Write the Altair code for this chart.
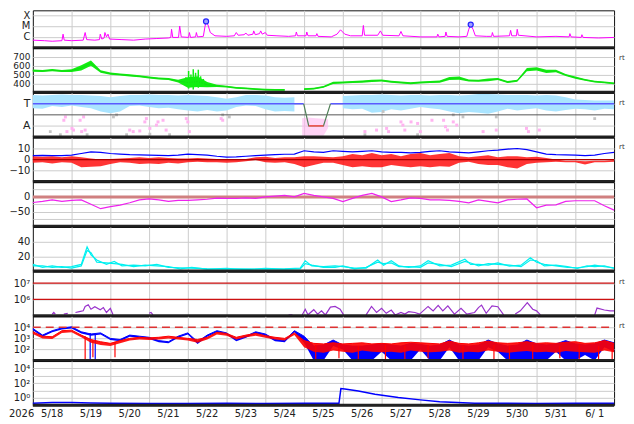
import altair as alt
import pandas as pd

FONT = "DejaVu Sans"
W = 585
H = 44.4
H1 = 37.7
Q = [i / 4 for i in range(61)]  # sample times, days since 5/18 00:00

# ---------------- panel 1: X-ray (log10 W/m2) ----------------
XR_D = [0.00, 0.30, 0.50, 0.75, 0.78, 0.81, 1.00, 1.30, 1.35, 1.39, 1.60, 1.72, 1.74, 1.78, 1.84, 1.86, 1.90, 1.94, 1.98,
        2.30, 2.60, 2.90, 3.20, 3.50, 3.56, 3.58, 3.61, 3.76, 3.79, 3.83, 4.02, 4.04, 4.07, 4.20, 4.22, 4.25, 4.40, 4.44,
        4.47, 4.52, 4.58, 4.70, 5.00, 5.20, 5.25, 5.30, 5.45, 5.50, 5.55, 5.68, 5.70, 5.74, 5.85, 5.88, 5.92, 6.00, 6.05,
        6.30, 6.60, 6.78, 6.80, 6.83, 7.05, 7.07, 7.10, 7.31, 7.33, 7.36, 7.70, 7.85, 7.94, 8.05, 8.20, 8.50, 8.53, 8.56,
        8.90, 8.97, 9.03, 9.45, 9.50, 9.55, 10.00, 10.43, 10.45, 10.48, 10.64, 10.66, 10.69, 11.00, 11.20, 11.25, 11.30,
        11.36, 11.42, 11.70, 11.84, 11.86, 11.89, 12.30, 12.33, 12.36, 12.48, 12.50, 12.53, 13.00, 13.50, 13.84, 13.86,
        13.89, 14.15, 14.17, 14.20, 14.60, 15.00]
XR_V = [-6.30, -6.35, -6.40, -6.35, -5.75, -6.30, -6.35, -6.30, -5.60, -6.25, -6.30, -6.25, -5.75, -6.20, -6.10, -5.60,
        -6.00, -5.75, -6.20, -6.25, -6.30, -6.20, -6.15, -6.10, -6.05, -5.30, -6.05, -6.05, -5.00, -6.00, -6.05, -5.60,
        -6.05, -6.00, -5.60, -6.00, -5.95, -5.10, -4.60, -4.90, -5.60, -5.90, -5.95, -5.90, -5.60, -5.85, -5.80, -5.65,
        -5.85, -5.75, -5.45, -5.80, -5.70, -5.45, -5.75, -5.60, -5.85, -5.90, -5.95, -5.90, -5.55, -5.90, -5.90, -5.55,
        -5.90, -5.90, -5.70, -5.95, -6.00, -5.75, -5.35, -5.75, -5.90, -5.90, -4.95, -5.85, -5.85, -5.45, -5.85, -5.90,
        -5.50, -5.90, -6.00, -6.00, -5.75, -6.00, -5.95, -5.55, -5.95, -6.00, -5.95, -5.30, -4.90, -5.30, -5.90, -5.95,
        -5.95, -5.60, -5.95, -5.90, -5.40, -5.90, -5.90, -5.30, -5.85, -6.00, -5.95, -6.00, -5.70, -6.00, -6.05, -5.80,
        -6.05, -6.10, -6.05]
FLARE_D = [4.47, 11.30]
FLARE_V = [-4.58, -4.87]

# ---------------- panel 2: solar wind speed ----------------
SPEED = [545, 540, 550, 540, 545, 575, 630, 535, 510, 500, 490, 480, 467, 455, 449, 425, 410, 420, 385, 372,
         363, 350, 343, 335, 328, 326, 325, None, 335, 340, 360, 405, 410, 415, 420, 428, 432, 418, 410, 402,
         410, 415, 420, 455, 460, 432, 430, 440, 449, 415, 430, 555, 565, 535, 540, 495, 465, 440, 420, 410, 400]
SPEED_NOISE = [12, 12, 12, 12, 15, 30, 30, 15, 12, 12, 12, 12, 12, 12, 12, 15, 60, 60, 30, 12,
               10, 10, 10, 10, 10, 10, 10, 0, 10, 10, 10, 12, 12, 12, 12, 12, 12, 12, 12, 12,
               12, 12, 12, 18, 18, 12, 12, 15, 12, 12, 12, 18, 18, 18, 15, 12, 12, 10, 10, 10, 10]
SPK_D = [3.95, 4.02, 4.08, 4.14, 4.20, 4.27, 4.33, 4.40]
SPK_LO = [370, 340, 360, 330, 380, 350, 360, 370]
SPK_HI = [470, 540, 500, 560, 520, 555, 480, 450]

# ---------------- panel 3: sector T / A ----------------
LB_HI = [1.8, 1.75, 1.8, 1.85, 1.8, 1.8, 1.75, 1.7, 1.6, 1.7, 1.8, 1.8, 1.85, 1.8, 1.8, 1.75, 1.8, 1.75, 1.7, 1.6,
         1.45, 1.6, 1.8, 1.8, 1.75, 1.6, 1.55, 1.6, None, None, None, None, 1.7, 1.75, 1.8, 1.8, 1.85, 1.8, 1.75, 1.8,
         1.8, 1.75, 1.8, 1.8, 1.75, 1.8, 1.9, 1.9, 1.85, 1.8, 1.8, 1.8, 1.75, 1.8, 1.75, 1.6, 1.4, 1.35, 1.3, 1.3, 1.3]
LB_LO = [0.6, 0.55, 0.8, 0.7, 0.85, 0.7, 0.6, 0.3, 0.15, 0.3, 0.8, 0.85, 0.7, 0.6, 0.65, 0.5, 0.4, 0.3, 0.45, 0.3,
         0.4, 0.7, 0.85, 0.8, 0.5, 0.3, 0.35, 0.3, None, None, None, None, 0.6, 0.5, 0.55, 0.2, 0.25, 0.5, 0.4, 0.55,
         0.7, 0.6, 0.5, 0.3, 0.15, 0.25, 0.2, 0.1, 0.3, 0.55, 0.4, 0.5, 0.6, 0.4, 0.3, 0.45, 0.55, 0.5, 0.4, 0.55, 0.5]
PINK_D = [0.80, 0.84, 0.88, 1.01, 1.05, 1.22, 1.26, 1.31, 1.35, 2.50, 2.59, 2.76, 2.89, 2.93, 3.02, 3.19, 3.23, 3.36,
          3.44, 3.96, 4.00, 4.04, 4.86, 4.90, 8.57, 8.87, 9.13, 9.18, 9.50, 9.55, 9.60, 9.76, 9.93, 10.0, 10.3, 10.6,
          10.65, 10.7, 10.85, 10.94, 11.62, 11.96, 12.74, 12.79, 13.07]
PINK_V = [-0.49, -0.19, -1.52, -1.23, -1.38, -0.49, -1.52, -0.19, -1.38, -1.38, -1.52, -1.46, -0.64, -0.34, -1.23,
          -0.93, -0.64, -0.49, -1.38, -0.34, -0.64, -1.52, -0.34, -0.49, -1.52, -1.38, -1.23, -1.52, -0.64, -0.93,
          -1.38, -0.64, -0.78, -1.52, -0.49, -0.49, -1.08, -1.38, -0.64, -0.93, -1.52, -1.38, -1.23, -1.52, -1.38]
PINKR_D = [6.95, 7.10, 7.30, 7.50, 7.62]
PINKR_LO = [-1.9, -1.9, -1.9, -1.9, -1.2]
PINKR_HI = [-0.3, -0.25, -0.3, -0.35, -0.4]
GRAY_D = [0.45, 0.71, 1.40, 2.08, 2.16, 2.42, 3.02, 3.53, 4.90, 5.07, 8.57, 9.04, 9.93, 10.85, 11.10, 11.96, 14.50]
GRAY_V = [-1.52, -1.8, -1.8, -0.19, 0.0, -1.8, -1.75, -1.8, 0.0, -0.19, -1.8, 0.3, -1.8, 0.0, -0.19, -0.19, -0.34]
SECT_BLUE_D = [0.0, 7.68]
SECT_BLUE_D2 = [6.99, 15.0]
SECT_BLUE_V = [1, 1]
SECT_SW_D = [6.99, 7.12, 7.50, 7.68]
SECT_SW_V = [1, -1, -1, 1]
SECT_RED_D = [7.12]
SECT_RED_D2 = [7.50]
SECT_RED_V = [-1]

# ---------------- panel 4: IMF Bt / Bz ----------------
BT = [3.6, 3.8, 3.5, 3.6, 4.0, 5.5, 7.0, 6.5, 5.5, 5.0, 4.5, 4.2, 4.0, 3.8, 3.6, 4.0, 5.0, 4.5, 4.0, 3.0,
      2.2, 2.5, 3.0, 3.5, 4.0, 4.5, 4.8, 5.0, 8.0, 7.0, 6.5, 8.0, 7.5, 7.0, 7.5, 8.0, 7.0, 6.5, 6.5, 6.0,
      6.5, 7.5, 8.0, 7.0, 6.5, 6.0, 7.0, 8.0, 8.5, 9.5, 10.0, 9.0, 7.0, 5.0, 4.5, 4.2, 4.0, 3.6, 4.0, 5.5, 6.5]
BZ_HI = [3, 2.5, 3, 2, 3, 2, 1, 0, 0.5, 1, 1.5, 2, 1.5, 2, 1.5, 1, 1, 1.5, 1, 0.5,
         -0.5, -0.5, 0.5, 2, 2.5, 1.5, 2, 2, 3, 3, 2.5, 2, 3, 5, 4, 6, 4, 5, 3, 5,
         6, 4, 5, 6, 3, 2, 3, 4, 2, 3, 3, 2, 2.5, 1.5, 0, -1, -1, -1.5, -1, -1, -0.5]
BZ_LO = [-3, -2.5, -3.5, -2.5, -3, -7, -6.5, -6, -4, -2.5, -3, -4, -3.5, -4, -3, -3.5, -2.5, -2, -2.5, -2.5,
         -3, -2.5, -1.5, -0.5, -2.5, -3, -2.5, -4, -7, -5, -3, -3, -5, -7, -6, -7, -7, -5, -6, -7,
         -6, -7, -6, -6.5, -3, -2, -4, -5, -5, -7, -8, -4, -3, -2.5, -2, -2.5, -2.5, -4.5, -2.5, -2.5, -2]

# ---------------- panel 5: Dst ----------------
DST = [-19, -15, -10, -15, -12, -10, -25, -40, -33, -28, -20, -10, -7, -10, -15, -12, -12, -10, -8, -4,
       -5, -5, -3, -5, 0, 3, 5, 0, 12, 5, 0, -5, -16, -5, 5, 12, 0, -16, -10, -3,
       -5, -10, -10, -12, -15, -20, -10, -15, -20, -10, -8, -7, -37, -28, -27, -15, -13, -13, -13, -30, -45]

# ---------------- panel 6: cyan index ----------------
CY_D = [0, 0.25, 0.5, 0.75, 1.0, 1.25, 1.4, 1.5, 1.65, 1.9, 2.1, 2.3, 2.6, 2.9, 3.2, 3.5, 3.8, 4.1, 4.5, 5.0,
        5.5, 6.0, 6.5, 6.9, 7.03, 7.2, 7.5, 7.8, 8.0, 8.3, 8.6, 8.9, 9.05, 9.25, 9.45, 9.7, 10.0, 10.2, 10.5, 10.8,
        11.15, 11.3, 11.5, 11.75, 12.0, 12.3, 12.6, 12.84, 13.0, 13.2, 13.5, 13.8, 14.05, 14.3, 14.5, 14.75, 15.0]
CY_A = [9, 5, 7, 5, 6, 9, 33, 22, 15, 9, 13, 7, 8, 7, 9, 5, 4.5, 4, 3, 2.5,
        3, 2.5, 3, 4, 14, 7, 6, 7, 6, 4, 4, 15, 8, 14, 7, 5, 7, 14, 7, 8,
        16, 9, 9, 8, 11, 6.7, 8, 18, 12, 9, 7, 5, 4.5, 6, 8, 6, 4.5]
CY_B = [7, 7, 5, 6, 4, 7, 28, 25, 12, 11, 10, 9, 6, 8, 7, 6, 3, 5, 2.5, 3.5,
        2, 3.5, 2.5, 3, 10, 8, 5, 5, 7, 3, 5, 12, 10, 11, 6, 6, 5, 11, 9, 6,
        13, 11, 7, 10, 9, 8, 6, 15, 14, 7, 8, 6, 3.5, 7, 6, 7, 3.5]

# ---------------- panel 7: electron flux (log10) ----------------
PUR_D = [0.5, 0.54, 0.58, None, 0.8, 0.9, None, 1.1, 1.2, 1.3, 1.35, 1.43, 1.5, 1.6, 1.74, 1.82, 1.9, 2.0, 2.07, None,
         3.0, 3.05, 3.1, None, 6.6, 6.7, None, 6.95, 7.03, 7.1, 7.25, 7.35, 7.45, 7.55, 7.68, 7.8, 7.93, 8.02, None,
         8.6, 8.74, 8.87, 9.0, 9.12, 9.25, 9.35, 9.5, 9.6, 9.7, 9.86, 9.98, 10.2, 10.33, 10.46, 10.58, 10.71, 10.88,
         11.05, 11.2, 11.4, 11.5, 11.58, 11.7, 11.85, 12.0, 12.15, None, 12.45, 12.58, 12.76, 12.9, 13.0, 13.1, None,
         14.5, 14.56, 14.75, 14.9, 15.0]
PUR_V = [5.1, 5.2, 5.1, None, 5.1, 5.15, None, 5.2, 5.25, 5.3, 5.57, 5.67, 5.4, 5.55, 5.37, 5.5, 5.2, 5.45, 5.06, None,
         5.15, 5.2, 5.05, None, 5.05, 5.06, None, 5.05, 5.4, 5.06, 5.37, 5.1, 5.3, 5.05, 5.53, 5.57, 5.4, 5.05, None,
         5.05, 5.57, 5.2, 5.46, 5.15, 5.35, 5.05, 5.2, 5.1, 5.25, 5.2, 5.1, 5.57, 5.3, 5.63, 5.3, 5.6, 5.1,
         5.46, 5.1, 5.2, 5.5, 5.65, 5.15, 5.6, 5.55, 5.05, None, 5.1, 5.3, 5.8, 5.4, 5.3, 5.05, None,
         5.05, 5.47, 5.35, 5.3, 5.3]

# ---------------- panel 8: proton / electron (log10) ----------------
BLUE8_HI = [3.9, 3.3, 3.7, 3.95, 4.05, 3.6, 3.4, 3.5, 3.0, 2.9, 3.3, 3.2, 3.1, 2.8, 2.7, 3.2, 3.5, 2.7, 3.3, 3.7,
            3.5, 2.9, 3.2, 3.6, 3.4, 2.9, 2.8, 3.7, 3.2, 2.3, 2.4, 2.85, 2.4, 2.3, 2.3, 2.4, 2.5, 2.4, 2.3, 2.55,
            2.45, 2.3, 2.4, 2.85, 2.4, 2.3, 2.4, 2.85, 2.5, 2.3, 2.4, 2.85, 2.5, 2.4, 2.5, 2.8, 2.5, 2.4, 2.5, 2.85, 2.6]
BLUE8_LO = [3.75, 3.15, 3.55, 3.8, 3.9, 3.45, 3.25, 3.35, 2.85, 2.75, 3.15, 3.05, 2.95, 2.65, 2.55, 3.05, 3.35, 2.5,
            3.15, 3.55, 3.35, 2.75, 3.05, 3.45, 3.25, 2.75, 2.65, 3.55, 2.6, 1.0, 1.0, 2.3, 2.0, 1.0, 1.0, 1.0, 1.8,
            1.0, 1.0, 1.0, 2.0, 1.0, 1.0, 2.2, 1.0, 1.0, 1.0, 2.2, 1.8, 1.0, 1.0, 1.0, 1.0, 1.0, 1.8, 1.0, 1.0, 1.5,
            1.0, 2.2, 1.8]
RED8_HI = [3.6, 3.2, 3.15, 3.7, 3.75, 3.3, 2.9, 2.7, 2.55, 2.8, 3.0, 3.1, 3.05, 3.1, 3.2, 3.1, 3.0, 2.9, 3.1, 3.55,
           3.45, 3.1, 3.3, 3.45, 3.25, 3.1, 3.0, 3.5, 2.8, 2.55, 2.5, 2.6, 2.5, 2.55, 2.6, 2.5, 2.55, 2.5, 2.6, 2.65,
           2.6, 2.55, 2.5, 2.75, 2.55, 2.5, 2.6, 2.75, 2.6, 2.55, 2.6, 2.7, 2.55, 2.6, 2.55, 2.65, 2.7, 2.55, 2.6, 2.8, 2.55]
RED8_LO = [3.4, 3.0, 2.95, 3.5, 3.55, 3.1, 2.6, 2.4, 2.3, 2.55, 2.8, 2.9, 2.85, 2.9, 3.0, 2.9, 2.8, 2.6, 2.9, 3.35,
           3.25, 2.9, 3.1, 3.25, 3.05, 2.9, 2.8, 3.3, 2.2, 1.8, 1.7, 1.9, 1.8, 1.7, 1.9, 1.8, 1.75, 1.8, 1.7, 1.9,
           1.8, 1.75, 1.8, 1.9, 1.7, 1.8, 1.75, 1.9, 1.8, 1.7, 1.8, 1.85, 1.75, 1.8, 1.7, 1.85, 1.8, 1.75, 1.7, 1.9, 1.75]
RSPK_D = [1.35, 1.55, 2.12, 7.30, 7.90, 8.40, 9.10, 9.60, 10.20, 11.10, 11.90, 12.30, 12.90, 13.60, 14.10, 14.60, 14.95]
RSPK_TOP = [3.2, 2.8, 2.7, 2.4, 2.4, 2.3, 2.4, 2.3, 2.4, 2.3, 2.4, 2.3, 2.4, 2.3, 2.4, 2.3, 2.4]
RSPK_BOT = [1.0, 1.3, 1.3, 1.0, 1.2, 1.0, 1.1, 1.0, 1.2, 1.0, 1.0, 1.1, 1.0, 1.2, 1.0, 1.0, 1.0]
BSPK_D = [1.48, 1.61]
BSPK_TOP = [3.5, 3.4]
BSPK_BOT = [1.0, 1.0]

# ---------------- panel 9: high-energy flux (log10) ----------------
P9_D = [0, 0.5, 1.0, 1.5, 2, 3, 4, 5, 6, 7, 7.9, 7.95, 8.05, 8.4, 8.83, 9.43, 10.0, 10.5, 11.4, 12, 13, 14, 15]
P9_V = [-0.75, -0.65, -0.64, -0.72, -0.75, -0.77, -0.76, -0.75, -0.76, -0.75, -0.74, 1.26, 1.2, 0.93, 0.49, 0.04,
        -0.28, -0.55, -0.73, -0.75, -0.76, -0.74, -0.75]

LABEL_D = [i + 0.5 for i in range(15)]
LABELS = ["5/18", "5/19", "5/20", "5/21", "5/22", "5/23", "5/24", "5/25", "5/26", "5/27", "5/28", "5/29",
          "5/30", "5/31", "6/ 1"]
RT_PANELS = [2, 3, 4, 7, 8]


# ---------------- helpers ----------------
def table(days, **cols):
    rows, seg = [], 0
    names = list(cols)
    for i, d in enumerate(days):
        vals = [cols[n][i] for n in names]
        if d is None or any(v is None for v in vals):
            seg += 1
            continue
        row = {"d": d, "seg": seg}
        row.update(dict(zip(names, vals)))
        rows.append(row)
    return pd.DataFrame(rows)


ONE = pd.DataFrame({"k": [0]})
XSCALE = alt.Scale(domain=[0, 15], nice=False, zero=False)
XAXIS = alt.Axis(values=list(range(1, 15)), labels=False, ticks=False, domain=False, title=None,
                 grid=True, gridColor="#cccccc", gridWidth=1)


def X(field="d"):
    return alt.X(f"{field}:Q", scale=XSCALE, axis=XAXIS)


def yax(values, expr, size=10):
    return alt.Axis(values=values, title=None, ticks=False, domain=False, labelPadding=3, labelFont=FONT,
                    labelFontSize=size, labelColor="#222222", grid=True, gridColor="#cccccc", gridWidth=1,
                    minExtent=24, maxExtent=24, labelBaseline="middle", labelOverlap=False,
                    labelFlush=False, labelExpr=expr)


def Y(field, domain, axis):
    return alt.Y(f"{field}:Q", scale=alt.Scale(domain=domain, nice=False, zero=False), axis=axis)


def hrule(vals, color, width, domain, axis, dash=None):
    kw = dict(color=color, strokeWidth=width)
    if dash:
        kw["strokeDash"] = dash
    return alt.Chart(table([0.0] * len(vals), d2=[15.0] * len(vals), v=vals)).mark_rule(**kw).encode(
        x=X(), x2="d2:Q", y=Y("v", domain, axis))


def panel(layers, idx, h=H, extra=None):
    parts = list(layers)
    parts.append(alt.Chart(ONE).mark_rule(color="#222222", strokeWidth=3).encode(
        x=alt.value(0), x2=alt.value(W), y=alt.value(h)))
    if idx in RT_PANELS:
        parts.append(alt.Chart(ONE).mark_text(text="rt", align="left", baseline="middle", font=FONT,
                                              fontSize=7, color="#333333").encode(
            x=alt.value(W + 5), y=alt.value(10)))
    if extra:
        parts += extra
    return alt.layer(*parts).properties(width=W, height=h)


SUP = ("datum.value == -1 ? '10⁻¹' : datum.value == 0 ? '10⁰' : datum.value == 1 ? '10¹' : "
       "datum.value == 2 ? '10²' : datum.value == 3 ? '10³' : datum.value == 4 ? '10⁴' : "
       "datum.value == 5 ? '10⁵' : datum.value == 6 ? '10⁶' : '10⁷'")
NUM = "format(datum.value, 'd')"

# ---- panel 1 (its top strip lies above the page margin, so the visible part is drawn)
D1 = [-7.0, -3.56]
A1 = yax([-6, -5, -4], "datum.value == -4 ? 'X' : datum.value == -5 ? 'M' : 'C'", 10)
p1 = panel([
    alt.Chart(table(XR_D, v=XR_V)).mark_line(color="#ff00ff", strokeWidth=1).encode(x=X(), y=Y("v", D1, A1)),
    alt.Chart(table(FLARE_D, v=FLARE_V)).mark_point(shape="circle", size=26, fill="#a0a0ff", stroke="#2222ff",
                                                   strokeWidth=1.2, fillOpacity=1, opacity=1).encode(
        x=X(), y=Y("v", D1, A1)),
], 1, h=H1)

# ---- panel 2
D2 = [300, 800]
A2 = yax([400, 500, 600, 700], NUM, 9)
sp = table(Q, c=SPEED, n=SPEED_NOISE)
sp["lo"] = sp["c"] - sp["n"]
sp["hi"] = sp["c"] + sp["n"]
p2 = panel([
    alt.Chart(sp).mark_area(color="#11ee11").encode(x=X(), y=Y("lo", D2, A2), y2="hi:Q", detail="seg:N"),
    alt.Chart(sp).mark_line(color="#11dd11", strokeWidth=1).encode(x=X(), y=Y("c", D2, A2), detail="seg:N"),
    alt.Chart(table(SPK_D, lo=SPK_LO, hi=SPK_HI)).mark_rule(color="#11ee11", strokeWidth=1.5).encode(
        x=X(), y=Y("lo", D2, A2), y2="hi:Q"),
], 2)

# ---- panel 3
D3 = [-2, 2]
A3 = yax([-1, 1], "datum.value > 0 ? 'T' : 'A'", 11)
p3 = panel([
    alt.Chart(table(Q, lo=LB_LO, hi=LB_HI)).mark_area(color="#aae4ff").encode(
        x=X(), y=Y("lo", D3, A3), y2="hi:Q", detail="seg:N"),
    alt.Chart(table(GRAY_D, v=GRAY_V)).mark_square(size=8, color="#c4c4c4", opacity=1).encode(
        x=X(), y=Y("v", D3, A3)),
    alt.Chart(table(PINKR_D, lo=PINKR_LO, hi=PINKR_HI)).mark_area(color="#ffb8f0", opacity=0.6).encode(
        x=X(), y=Y("lo", D3, A3), y2="hi:Q"),
    alt.Chart(table(PINK_D, v=PINK_V)).mark_square(size=9, color="#ffb4f0", opacity=1).encode(
        x=X(), y=Y("v", D3, A3)),
    hrule([0], "#555555", 1, D3, A3),
    alt.Chart(table(SECT_BLUE_D, d2=SECT_BLUE_D2, v=SECT_BLUE_V)).mark_rule(color="#5a5aff", strokeWidth=1.5).encode(
        x=X(), x2="d2:Q", y=Y("v", D3, A3)),
    alt.Chart(table(SECT_SW_D, v=SECT_SW_V)).mark_line(color="#4f7f57", strokeWidth=1.2).encode(
        x=X(), y=Y("v", D3, A3)),
    alt.Chart(table(SECT_RED_D, d2=SECT_RED_D2, v=SECT_RED_V)).mark_rule(color="#ff5050", strokeWidth=1.5).encode(
        x=X(), x2="d2:Q", y=Y("v", D3, A3)),
], 3)

# ---- panel 4
D4 = [-20, 20]
A4 = yax([-10, 0, 10], NUM)
p4 = panel([
    alt.Chart(table(Q, lo=BZ_LO, hi=BZ_HI)).mark_area(color="#ff1010", opacity=0.85).encode(
        x=X(), y=Y("lo", D4, A4), y2="hi:Q"),
    hrule([0], "#aa0000", 1.3, D4, A4),
    alt.Chart(table(Q, v=BT)).mark_line(color="#0000ff", strokeWidth=1.2).encode(x=X(), y=Y("v", D4, A4)),
], 4)

# ---- panel 5
D5 = [-100, 50]
A5 = yax([-75, -50, -25, 0, 25], "datum.value == 0 ? '0' : datum.value == -50 ? '−50' : ''")
p5 = panel([
    hrule([0], "#d08080", 3, D5, A5),
    alt.Chart(table(Q, v=DST)).mark_line(color="#ee22ee", strokeWidth=1.2).encode(x=X(), y=Y("v", D5, A5)),
], 5)

# ---- panel 6
D6 = [0, 60]
A6 = yax([20, 40], NUM)
p6 = panel([
    alt.Chart(table(CY_D, v=CY_B)).mark_line(color="#00f0f0", strokeWidth=1.2).encode(x=X(), y=Y("v", D6, A6)),
    alt.Chart(table(CY_D, v=CY_A)).mark_line(color="#00f0f0", strokeWidth=1.2).encode(x=X(), y=Y("v", D6, A6)),
], 6)

# ---- panel 7
D7 = [5, 7.7]
A7 = yax([6, 7], SUP)
p7 = panel([
    alt.Chart(table(PUR_D, v=PUR_V)).mark_line(color="#9933cc", strokeWidth=1.2).encode(
        x=X(), y=Y("v", D7, A7), detail="seg:N"),
    hrule([6, 7], "#cc1111", 1.2, D7, A7),
], 7)

# ---- panel 8
D8 = [1, 5]
A8 = yax([2, 3, 4], SUP)
p8 = panel([
    alt.Chart(table(Q, lo=BLUE8_LO, hi=BLUE8_HI)).mark_area(color="#0000ff").encode(
        x=X(), y=Y("lo", D8, A8), y2="hi:Q"),
    alt.Chart(table(Q, v=BLUE8_HI)).mark_line(color="#0000ff", strokeWidth=1).encode(x=X(), y=Y("v", D8, A8)),
    alt.Chart(table(BSPK_D, top=BSPK_TOP, bot=BSPK_BOT)).mark_rule(color="#0000ff", strokeWidth=1.2).encode(
        x=X(), y=Y("bot", D8, A8), y2="top:Q"),
    alt.Chart(table(Q, lo=RED8_LO, hi=RED8_HI)).mark_area(color="#ff0000", opacity=0.9).encode(
        x=X(), y=Y("lo", D8, A8), y2="hi:Q"),
    alt.Chart(table(Q, v=RED8_HI)).mark_line(color="#ff0000", strokeWidth=1).encode(x=X(), y=Y("v", D8, A8)),
    alt.Chart(table(RSPK_D, top=RSPK_TOP, bot=RSPK_BOT)).mark_rule(color="#ff0000", strokeWidth=1.2).encode(
        x=X(), y=Y("bot", D8, A8), y2="top:Q"),
    hrule([4], "#dd3333", 1.5, D8, A8, dash=[8, 5]),
], 8)

# ---- panel 9
D9 = [-1, 5]
A9 = yax([0, 1, 2, 3, 4], "datum.value == 0 ? '10⁰' : datum.value == 2 ? '10²' : datum.value == 4 ? '10⁴' : ''")
lab = pd.DataFrame({"d": LABEL_D, "t": LABELS})
p9 = panel([
    alt.Chart(table(P9_D, v=P9_V)).mark_line(color="#0000ff", strokeWidth=1.5).encode(x=X(), y=Y("v", D9, A9)),
], 9, extra=[
    alt.Chart(lab).mark_text(font=FONT, fontSize=10, color="#222222", baseline="middle").encode(
        x=X(), y=alt.value(H + 8.5), text="t:N"),
    alt.Chart(ONE).mark_text(text="2026", font=FONT, fontSize=10, color="#222222", align="left",
                             baseline="middle").encode(x=alt.value(-24), y=alt.value(H + 8.5)),
])

chart = alt.vconcat(p1, p2, p3, p4, p5, p6, p7, p8, p9, spacing=0, bounds="flush").properties(
    padding={"left": 0, "right": 0, "top": 0, "bottom": 0}, background="white"
).configure_view(stroke="#111111", strokeWidth=1)

chart.save("out.html", embed_options={"renderer": "svg", "actions": False})
